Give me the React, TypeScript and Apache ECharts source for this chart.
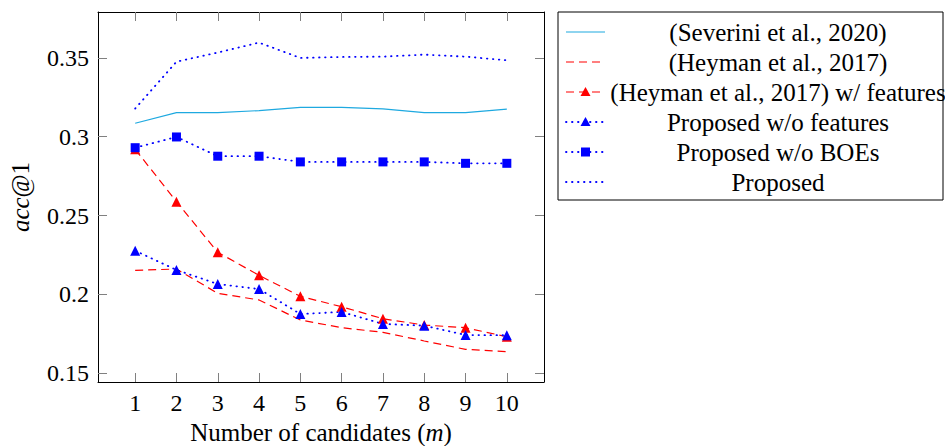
import React, { useEffect, useRef } from "react";
import * as echarts from "echarts";

const candidates = [1, 2, 3, 4, 5, 6, 7, 8, 9, 10];
const severini = [0.3085, 0.3152, 0.3152, 0.3165, 0.3186, 0.3186, 0.3176, 0.3152, 0.3152, 0.3174];
const heyman = [0.2153, 0.2161, 0.2007, 0.1965, 0.1838, 0.1789, 0.176, 0.1705, 0.1652, 0.1637];
const heymanFeat = [0.292, 0.2588, 0.2267, 0.2121, 0.1988, 0.1922, 0.1846, 0.1806, 0.1789, 0.1732];
const propNoFeat = [0.2277, 0.2155, 0.2066, 0.2034, 0.1876, 0.1889, 0.1813, 0.1802, 0.1743, 0.1741];
const propNoBoe = [0.293, 0.2998, 0.2876, 0.2876, 0.284, 0.284, 0.284, 0.284, 0.2831, 0.2831];
const proposed = [0.3178, 0.3475, 0.3533, 0.3596, 0.3499, 0.3505, 0.3507, 0.352, 0.3507, 0.3484];
const yTicks = [0.15, 0.2, 0.25, 0.3, 0.35];
const legendNames = [
  "(Severini et al., 2020)",
  "(Heyman et al., 2017)",
  "(Heyman et al., 2017) w/ features",
  "Proposed w/o features",
  "Proposed w/o BOEs",
  "Proposed",
];

const FONT = "Liberation Serif";
const CYAN = "#1ea9e0";
const RED = "#ff0000";
const BLUE = "#0000ff";
const DASH = [8, 5];
const DOT = [0.5, 5.5];

const pairs = (ys: number[]) => candidates.map((x, i) => [x, ys[i]]);

export default function App() {
  const ref = useRef<HTMLDivElement>(null);
  useEffect(() => {
    if (!ref.current) return;
    const chart = echarts.init(ref.current, undefined, { renderer: "svg" });
    const tickStyle = { show: true, inside: true, length: 9, lineStyle: { color: "#808080", width: 1 } };
    const axisLine = { show: true, onZero: false, lineStyle: { color: "#000", width: 1 } };
    const xMin = 0.1, xMax = 10.9, yMin = 0.1445, yMax = 0.379;

    const styles = [
      { color: CYAN, dash: null as any, symbol: "none", size: 0 },
      { color: RED, dash: DASH, symbol: "none", size: 0 },
      { color: RED, dash: DASH, symbol: "triangle", size: 10 },
      { color: BLUE, dash: DOT, symbol: "triangle", size: 10 },
      { color: BLUE, dash: DOT, symbol: "rect", size: 9 },
      { color: BLUE, dash: DOT, symbol: "none", size: 0 },
    ];
    const datas = [severini, heyman, heymanFeat, propNoFeat, propNoBoe, proposed];

    const series = datas.map((d, i) => {
      const s = styles[i];
      const dotted = s.dash === DOT;
      return {
        name: legendNames[i],
        type: "line",
        data: pairs(d),
        symbol: s.symbol,
        symbolSize: s.size,
        showSymbol: s.symbol !== "none",
        lineStyle: {
          color: s.color,
          width: dotted ? 1.8 : 1.2,
          type: s.dash ? s.dash : "solid",
          cap: dotted ? "round" : "butt",
        },
        itemStyle: { color: s.color },
        xAxisIndex: 0,
        yAxisIndex: 0,
      };
    });

    const lx0 = 566, lx1 = 605, textX = 778, rowY0 = 32, rowStep = 30;
    const legendEls: any[] = [
      {
        type: "rect",
        shape: { x: 558, y: 12, width: 385, height: 188 },
        style: { fill: "#fff", stroke: "#000", lineWidth: 1 },
      },
    ];
    styles.forEach((s, i) => {
      const y = rowY0 + i * rowStep;
      const dotted = s.dash === DOT;
      legendEls.push({
        type: "line",
        shape: { x1: lx0, y1: y, x2: lx1, y2: y },
        style: {
          stroke: s.color,
          lineWidth: dotted ? 1.8 : 1.2,
          lineDash: s.dash,
          lineCap: dotted ? "round" : "butt",
        },
      });
      const cx = (lx0 + lx1) / 2;
      if (s.symbol === "triangle") {
        legendEls.push({
          type: "polygon",
          shape: { points: [[cx, y - 5], [cx - 5, y + 4], [cx + 5, y + 4]] },
          style: { fill: s.color },
        });
      } else if (s.symbol === "rect") {
        legendEls.push({
          type: "rect",
          shape: { x: cx - 4.5, y: y - 4.5, width: 9, height: 9 },
          style: { fill: s.color },
        });
      }
      legendEls.push({
        type: "text",
        style: {
          text: legendNames[i],
          x: textX,
          y,
          textAlign: "center",
          textVerticalAlign: "middle",
          fontFamily: FONT,
          fontSize: 25,
          fill: "#000",
        },
      });
    });

    const tickText = { color: "#000", fontFamily: FONT, fontSize: 24 };
    const nameText = { color: "#000", fontFamily: FONT, fontSize: 25, lineHeight: 24 };

    chart.setOption({
      animation: false,
      backgroundColor: "#fff",
      textStyle: { fontFamily: FONT },
      grid: {
        left: 98,
        top: 12,
        right: 401,
        bottom: 64,
        containLabel: false,
        outerBoundsMode: "none",
      },
      xAxis: [
        {
          type: "value",
          min: xMin,
          max: xMax,
          position: "bottom",
          axisLine,
          axisTick: { ...tickStyle, customValues: candidates },
          axisLabel: { customValues: candidates, margin: 9, ...tickText },
          splitLine: { show: false },
          name: "Number of candidates ({i|m})",
          nameLocation: "middle",
          nameGap: 38,
          nameTextStyle: {
            ...nameText,
            rich: { i: { ...nameText, fontStyle: "italic" } },
          },
        },
        {
          type: "value",
          min: xMin,
          max: xMax,
          position: "top",
          axisLine,
          axisTick: { ...tickStyle, customValues: candidates },
          axisLabel: { show: false },
          splitLine: { show: false },
        },
      ],
      yAxis: [
        {
          type: "value",
          min: yMin,
          max: yMax,
          position: "left",
          axisLine,
          axisTick: { ...tickStyle, customValues: yTicks },
          axisLabel: {
            customValues: yTicks,
            margin: 9,
            ...tickText,
            formatter: (v: number) => String(+v.toFixed(2)),
          },
          splitLine: { show: false },
          name: "{i|acc}@1",
          nameLocation: "middle",
          nameGap: 66,
          nameRotate: 90,
          nameTextStyle: {
            ...nameText,
            rich: { i: { ...nameText, fontStyle: "italic" } },
          },
        },
        {
          type: "value",
          min: yMin,
          max: yMax,
          position: "right",
          axisLine,
          axisTick: { ...tickStyle, customValues: yTicks },
          axisLabel: { show: false },
          splitLine: { show: false },
        },
      ],
      series,
      graphic: legendEls,
    });
    return () => chart.dispose();
  }, []);
  return (
    <div
      ref={ref}
      style={{ position: "absolute", left: 0, top: 0, width: 945, height: 446 }}
    />
  );
}
